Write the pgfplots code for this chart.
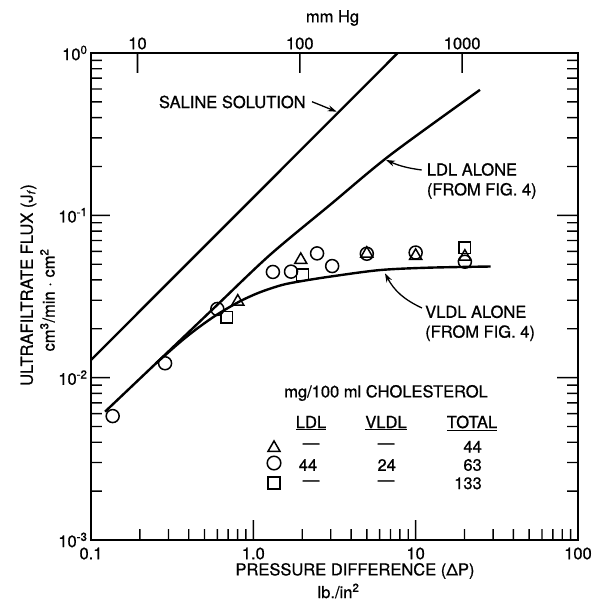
\documentclass[border=0pt]{standalone}
\usepackage{pgfplots}
\pgfplotsset{compat=1.18}
\usepackage{fontspec}
\setmainfont{TeX Gyre Heros}[FakeBold=0.8]
\usetikzlibrary{arrows.meta}
\begin{document}
\begin{tikzpicture}[font=\fontsize{16.5}{19.8}\selectfont]
\begin{axis}[
  scale only axis, width=487pt, height=487pt,
  xmode=log, ymode=log,
  xmin=0.1, xmax=100, ymin=0.001, ymax=1,
  axis line style={line width=2.4pt},
  tickwidth=0pt, subtickwidth=0pt,
  xtick align=inside, ytick align=inside,
  xtick pos=bottom, ytick pos=both,
  xtick={0.1,1,10,100}, xticklabels={0.1,1.0,10,100},
  minor xtick={},
  ytick={0.001,0.01,0.1,1},
  yticklabels={10\textsuperscript{-3},10\textsuperscript{-2},10\textsuperscript{-1},10\textsuperscript{0}},
  minor ytick={},
  tick label style={font=\fontsize{16.5}{19.8}\selectfont},
  xticklabel style={yshift=-4pt},
  clip=false,
]
% saline solution
\addplot[line width=2.4pt] coordinates {(0.1,0.01285) (7.75,1)};
% LDL alone
\addplot[line width=2.4pt, smooth, tension=0.5] coordinates {
(0.122,0.00617) (0.3,0.0145) (0.6,0.0281) (1.267,0.0571) (3,0.117) (7,0.236) (24.9,0.593)};
% VLDL alone
\addplot[line width=2.4pt, smooth, tension=0.5] coordinates {
(0.25,0.0122) (0.35,0.0164) (0.45,0.02005) (0.6,0.02453) (0.828,0.02956) (1.1,0.0336)
(1.5,0.03723) (1.94,0.0392) (3,0.0420) (6,0.0460) (12,0.0476) (29,0.0484)};
% data: circles
\addplot[only marks, mark=o, mark size=6.5pt, mark options={line width=1.5pt}] coordinates {
(0.136,0.0058) (0.286,0.01227) (0.600,0.0265) (1.32,0.0448) (1.707,0.045)
(2.47,0.0583) (3.06,0.0487) (5.0,0.058) (10,0.059) (20.1,0.0518)};
% triangles
\addplot[only marks, mark=triangle, mark size=7pt, mark options={line width=1.5pt}] coordinates {
(0.802,0.0294) (1.96,0.0531) (5.0,0.058) (10,0.0563) (20.1,0.0556)};
% squares
\addplot[only marks, mark=square, mark size=5.8pt, mark options={line width=1.5pt}] coordinates {
(0.685,0.02356) (2.01,0.0430) (20.1,0.063)};
% key symbols
\addplot[only marks, mark=triangle, mark size=7pt, mark options={line width=1.5pt}] coordinates {(1.341,0.00369)};
\addplot[only marks, mark=o, mark size=6.8pt, mark options={line width=1.5pt}] coordinates {(1.341,0.00298)};
\addplot[only marks, mark=square, mark size=6pt, mark options={line width=1.5pt}] coordinates {(1.341,0.002245)};
\end{axis}
\begin{axis}[
  scale only axis, width=487pt, height=487pt,
  xmode=log, xmin=5.17149, xmax=5171.49, ymin=0, ymax=1,
  axis x line*=top, hide y axis,
  x axis line style={-, line width=2.4pt},
  xtick={10,100,1000}, xticklabels={10,100,1000},
  minor xtick={},
  xtick align=inside, tickwidth=0pt, subtickwidth=0pt,
  tick label style={font=\fontsize{16.5}{19.8}\selectfont},
]
\addplot[draw=none] coordinates {(10,0.5)};
\end{axis}
% inward tick marks drawn as thin filled bars: one decade = 162.333pt
% left axis
\fill[black]
 (0pt,48.867pt) ++(0pt,-0.7pt) rectangle ++(11pt,1.4pt) (0pt,77.453pt) ++(0pt,-0.7pt) rectangle ++(11pt,1.4pt)
 (0pt,97.734pt) ++(0pt,-0.7pt) rectangle ++(11pt,1.4pt) (0pt,113.466pt) ++(0pt,-0.7pt) rectangle ++(11pt,1.4pt)
 (0pt,126.320pt) ++(0pt,-0.7pt) rectangle ++(11pt,1.4pt) (0pt,137.188pt) ++(0pt,-0.7pt) rectangle ++(11pt,1.4pt)
 (0pt,146.602pt) ++(0pt,-0.7pt) rectangle ++(11pt,1.4pt) (0pt,154.905pt) ++(0pt,-0.7pt) rectangle ++(11pt,1.4pt)
 (0pt,211.200pt) ++(0pt,-0.7pt) rectangle ++(11pt,1.4pt) (0pt,239.786pt) ++(0pt,-0.7pt) rectangle ++(11pt,1.4pt)
 (0pt,260.067pt) ++(0pt,-0.7pt) rectangle ++(11pt,1.4pt) (0pt,275.799pt) ++(0pt,-0.7pt) rectangle ++(11pt,1.4pt)
 (0pt,288.653pt) ++(0pt,-0.7pt) rectangle ++(11pt,1.4pt) (0pt,299.521pt) ++(0pt,-0.7pt) rectangle ++(11pt,1.4pt)
 (0pt,308.935pt) ++(0pt,-0.7pt) rectangle ++(11pt,1.4pt) (0pt,317.238pt) ++(0pt,-0.7pt) rectangle ++(11pt,1.4pt)
 (0pt,373.534pt) ++(0pt,-0.7pt) rectangle ++(11pt,1.4pt) (0pt,402.120pt) ++(0pt,-0.7pt) rectangle ++(11pt,1.4pt)
 (0pt,422.401pt) ++(0pt,-0.7pt) rectangle ++(11pt,1.4pt) (0pt,438.133pt) ++(0pt,-0.7pt) rectangle ++(11pt,1.4pt)
 (0pt,450.987pt) ++(0pt,-0.7pt) rectangle ++(11pt,1.4pt) (0pt,461.855pt) ++(0pt,-0.7pt) rectangle ++(11pt,1.4pt)
 (0pt,471.269pt) ++(0pt,-0.7pt) rectangle ++(11pt,1.4pt) (0pt,479.572pt) ++(0pt,-0.7pt) rectangle ++(11pt,1.4pt)
 (0pt,162.333pt) ++(0pt,-0.8pt) rectangle ++(19pt,1.6pt) (0pt,324.667pt) ++(0pt,-0.8pt) rectangle ++(19pt,1.6pt);
% right axis
\fill[black]
 (487pt,48.867pt) ++(0pt,-0.7pt) rectangle ++(-11pt,1.4pt) (487pt,77.453pt) ++(0pt,-0.7pt) rectangle ++(-11pt,1.4pt)
 (487pt,97.734pt) ++(0pt,-0.7pt) rectangle ++(-11pt,1.4pt) (487pt,113.466pt) ++(0pt,-0.7pt) rectangle ++(-11pt,1.4pt)
 (487pt,126.320pt) ++(0pt,-0.7pt) rectangle ++(-11pt,1.4pt) (487pt,137.188pt) ++(0pt,-0.7pt) rectangle ++(-11pt,1.4pt)
 (487pt,146.602pt) ++(0pt,-0.7pt) rectangle ++(-11pt,1.4pt) (487pt,154.905pt) ++(0pt,-0.7pt) rectangle ++(-11pt,1.4pt)
 (487pt,211.200pt) ++(0pt,-0.7pt) rectangle ++(-11pt,1.4pt) (487pt,239.786pt) ++(0pt,-0.7pt) rectangle ++(-11pt,1.4pt)
 (487pt,260.067pt) ++(0pt,-0.7pt) rectangle ++(-11pt,1.4pt) (487pt,275.799pt) ++(0pt,-0.7pt) rectangle ++(-11pt,1.4pt)
 (487pt,288.653pt) ++(0pt,-0.7pt) rectangle ++(-11pt,1.4pt) (487pt,299.521pt) ++(0pt,-0.7pt) rectangle ++(-11pt,1.4pt)
 (487pt,308.935pt) ++(0pt,-0.7pt) rectangle ++(-11pt,1.4pt) (487pt,317.238pt) ++(0pt,-0.7pt) rectangle ++(-11pt,1.4pt)
 (487pt,373.534pt) ++(0pt,-0.7pt) rectangle ++(-11pt,1.4pt) (487pt,402.120pt) ++(0pt,-0.7pt) rectangle ++(-11pt,1.4pt)
 (487pt,422.401pt) ++(0pt,-0.7pt) rectangle ++(-11pt,1.4pt) (487pt,438.133pt) ++(0pt,-0.7pt) rectangle ++(-11pt,1.4pt)
 (487pt,450.987pt) ++(0pt,-0.7pt) rectangle ++(-11pt,1.4pt) (487pt,461.855pt) ++(0pt,-0.7pt) rectangle ++(-11pt,1.4pt)
 (487pt,471.269pt) ++(0pt,-0.7pt) rectangle ++(-11pt,1.4pt) (487pt,479.572pt) ++(0pt,-0.7pt) rectangle ++(-11pt,1.4pt)
 (487pt,162.333pt) ++(0pt,-0.8pt) rectangle ++(-21pt,1.6pt) (487pt,324.667pt) ++(0pt,-0.8pt) rectangle ++(-21pt,1.6pt);
% bottom axis
\fill[black]
 (48.867pt,0pt) ++(-0.7pt,0pt) rectangle ++(1.4pt,11pt) (77.453pt,0pt) ++(-0.7pt,0pt) rectangle ++(1.4pt,11pt)
 (97.734pt,0pt) ++(-0.7pt,0pt) rectangle ++(1.4pt,11pt) (113.466pt,0pt) ++(-0.7pt,0pt) rectangle ++(1.4pt,11pt)
 (126.320pt,0pt) ++(-0.7pt,0pt) rectangle ++(1.4pt,11pt) (137.188pt,0pt) ++(-0.7pt,0pt) rectangle ++(1.4pt,11pt)
 (146.602pt,0pt) ++(-0.7pt,0pt) rectangle ++(1.4pt,11pt) (154.905pt,0pt) ++(-0.7pt,0pt) rectangle ++(1.4pt,11pt)
 (211.200pt,0pt) ++(-0.7pt,0pt) rectangle ++(1.4pt,11pt) (239.786pt,0pt) ++(-0.7pt,0pt) rectangle ++(1.4pt,11pt)
 (260.067pt,0pt) ++(-0.7pt,0pt) rectangle ++(1.4pt,11pt) (275.799pt,0pt) ++(-0.7pt,0pt) rectangle ++(1.4pt,11pt)
 (288.653pt,0pt) ++(-0.7pt,0pt) rectangle ++(1.4pt,11pt) (299.521pt,0pt) ++(-0.7pt,0pt) rectangle ++(1.4pt,11pt)
 (308.935pt,0pt) ++(-0.7pt,0pt) rectangle ++(1.4pt,11pt) (317.238pt,0pt) ++(-0.7pt,0pt) rectangle ++(1.4pt,11pt)
 (373.534pt,0pt) ++(-0.7pt,0pt) rectangle ++(1.4pt,11pt) (402.120pt,0pt) ++(-0.7pt,0pt) rectangle ++(1.4pt,11pt)
 (422.401pt,0pt) ++(-0.7pt,0pt) rectangle ++(1.4pt,11pt) (438.133pt,0pt) ++(-0.7pt,0pt) rectangle ++(1.4pt,11pt)
 (450.987pt,0pt) ++(-0.7pt,0pt) rectangle ++(1.4pt,11pt) (461.855pt,0pt) ++(-0.7pt,0pt) rectangle ++(1.4pt,11pt)
 (471.269pt,0pt) ++(-0.7pt,0pt) rectangle ++(1.4pt,11pt) (479.572pt,0pt) ++(-0.7pt,0pt) rectangle ++(1.4pt,11pt)
 (162.333pt,0pt) ++(-0.8pt,0pt) rectangle ++(1.6pt,20pt) (324.667pt,0pt) ++(-0.8pt,0pt) rectangle ++(1.6pt,20pt);
% top axis (mm Hg)
\fill[black]
 (46.49pt,487pt) ++(-0.8pt,0pt) rectangle ++(1.6pt,-20pt)
 (208.82pt,487pt) ++(-0.8pt,0pt) rectangle ++(1.6pt,-20pt)
 (371.15pt,487pt) ++(-0.8pt,0pt) rectangle ++(1.6pt,-20pt);
% axis titles
\node at (241.5pt,522pt) {mm Hg};
\node[inner sep=0pt] at (264pt,-31pt) {PRESSURE DIFFERENCE (ΔP)};
\node[inner sep=0pt] at (247.5pt,-51pt) {lb./in\textsuperscript{2}};
\node[rotate=90] at (-62.5pt,255pt) {ULTRAFILTRATE FLUX (J\textsubscript{\textit{f}})};
\node[rotate=90] at (-43.5pt,240pt) {cm\textsuperscript{3}/min · cm\textsuperscript{2}};
% annotations
\node at (141.3pt,438pt) {SALINE SOLUTION};
\draw[line width=1.3pt, -{Stealth[length=9pt,width=6pt]}] (221pt,438.3pt) -- (245.7pt,428.3pt);
\node[anchor=west, align=left, inner sep=0pt] at (335.7pt,359pt) {LDL ALONE\\(FROM FIG. 4)};
\draw[line width=1.3pt, -{Stealth[length=9pt,width=6pt]}] (330.7pt,370pt) to[bend left=8] (295pt,380pt);
\node[anchor=west, align=left, inner sep=0pt] at (334pt,216.7pt) {VLDL ALONE\\(FROM FIG. 4)};
\draw[line width=1.3pt, -{Stealth[length=9pt,width=6pt]}] (331pt,232pt) to[out=155,in=-62] (294pt,266.7pt);
% key table
\node at (295pt,147pt) {mg/100 ml CHOLESTEROL};
\node at (220pt,117pt) {\underline{LDL}};
\node at (295pt,117pt) {\underline{VLDL}};
\node at (381pt,117pt) {\underline{TOTAL}};
\begin{scope}[every node/.style={inner sep=0pt}]
\node at (220pt,94pt) {—};
\node at (217pt,75pt) {44};
\node at (220pt,57pt) {—};
\node at (295pt,94pt) {—};
\node at (295.7pt,75pt) {24};
\node at (295pt,57pt) {—};
\node[anchor=east] at (391pt,93.3pt) {44};
\node[anchor=east] at (391pt,75pt) {63};
\node[anchor=east] at (391pt,56.7pt) {133};
\end{scope}
\pgfresetboundingbox
\path[use as bounding box] (-91pt,-66pt) rectangle (505pt,540pt);
\end{tikzpicture}
\end{document}
